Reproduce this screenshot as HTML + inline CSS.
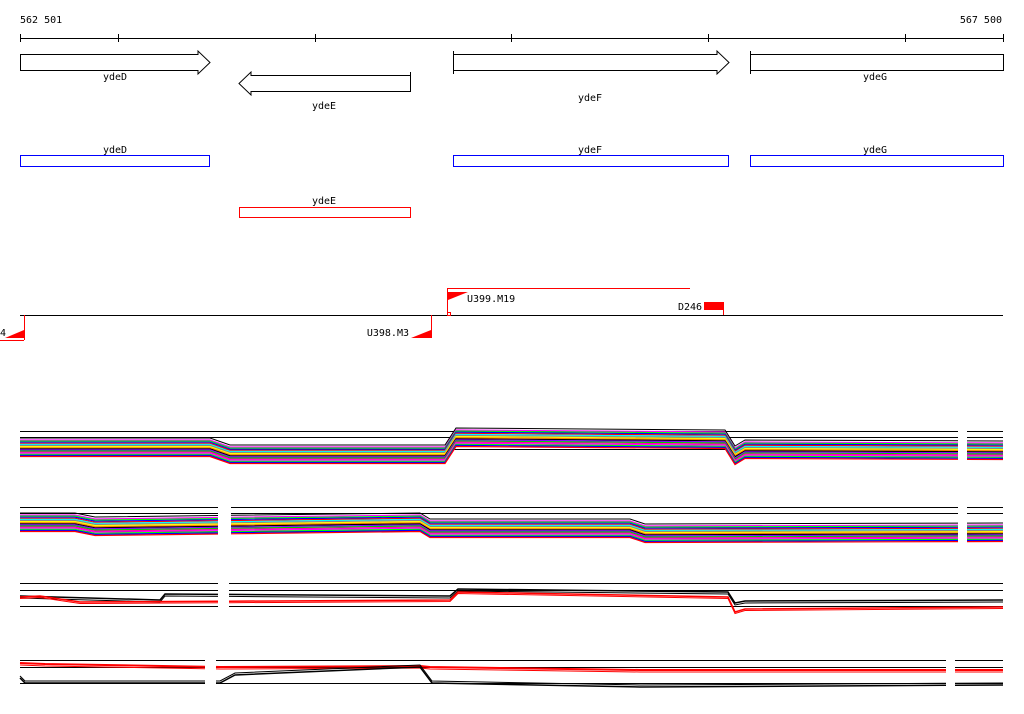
<!DOCTYPE html>
<html><head><meta charset="utf-8"><style>
body{margin:0;background:#fff}
svg{display:block;font-family:"DejaVu Sans Mono","Liberation Mono",monospace;font-size:10px}
</style></head><body>
<svg id="c" width="1024" height="714" viewBox="0 0 1024 714">
<g>
<line x1="20" y1="38.5" x2="1003" y2="38.5" stroke="#000"/>
<text x="20" y="23">562 501</text>
<text x="1002" y="23" text-anchor="end">567 500</text>
<g id="ticks" stroke="#000"></g>
</g>
<g fill="#fff" stroke="#000">
<polygon points="20.5,54.5 198,54.5 198,51 210,62.5 198,74 198,70.5 20.5,70.5"/>
<polygon points="410.5,75.5 251,75.5 251,72 239,83.5 251,95 251,91.5 410.5,91.5"/>
<line x1="410.5" y1="72" x2="410.5" y2="92"/>
<polygon points="453.5,54.5 717,54.5 717,51 729,62.5 717,74 717,70.5 453.5,70.5"/>
<line x1="453.5" y1="51" x2="453.5" y2="74"/>
<rect x="750.5" y="54.5" width="253" height="16"/>
<line x1="750.5" y1="51" x2="750.5" y2="74"/>
</g>
<g fill="#000">
<text x="115" y="80" text-anchor="middle">ydeD</text>
<text x="324" y="109" text-anchor="middle">ydeE</text>
<text x="590" y="101" text-anchor="middle">ydeF</text>
<text x="875" y="80" text-anchor="middle">ydeG</text>
</g>
<g fill="none">
<rect x="20.5" y="155.5" width="189" height="11" stroke="#00f"/>
<rect x="453.5" y="155.5" width="275" height="11" stroke="#00f"/>
<rect x="750.5" y="155.5" width="253" height="11" stroke="#00f"/>
<rect x="239.5" y="207.5" width="171" height="10" stroke="#f00"/>
<g fill="#000">
<text x="115" y="153" text-anchor="middle">ydeD</text>
<text x="590" y="153" text-anchor="middle">ydeF</text>
<text x="875" y="153" text-anchor="middle">ydeG</text>
<text x="324" y="204" text-anchor="middle">ydeE</text>
</g>
</g>
<g>
<line x1="20" y1="315.5" x2="1003" y2="315.5" stroke="#000"/>
<g stroke="#f00" fill="none">
<line x1="24.5" y1="315" x2="24.5" y2="340"/>
<line x1="0" y1="340.5" x2="24" y2="340.5"/>
<line x1="431.5" y1="315" x2="431.5" y2="338"/>
<line x1="447.5" y1="288" x2="447.5" y2="312"/>
<line x1="447" y1="288.5" x2="690" y2="288.5"/>
<rect x="447.5" y="312.5" width="3" height="3"/>
<line x1="723.5" y1="302" x2="723.5" y2="315"/>
</g>
<g fill="#f00">
<polygon points="5,338 24,330 24,338"/>
<polygon points="411,338 431,330 431,338"/>
<polygon points="448,292 468,292 448,300"/>
<rect x="704" y="302" width="19" height="8"/>
</g>
<g fill="#000">
<text x="0" y="336">4</text>
<text x="409" y="336" text-anchor="end">U398.M3</text>
<text x="467" y="302">U399.M19</text>
<text x="678" y="310">D246</text>
</g>
</g>
<g id="tracks"></g>
</svg>
<script>
const NS='http://www.w3.org/2000/svg';
const tickPos=[20,118,315,511,708,905,1003];
const tk=document.getElementById('ticks');
tickPos.forEach(x=>{const l=document.createElementNS(NS,'line');


l.setAttribute('x1',x+0.5);l.setAttribute('x2',x+0.5);l.setAttribute('y1',34);l.setAttribute('y2',42);tk.appendChild(l);});

// profile breakpoints (x) and values (y px offsets) per track
const t1X=[20,210,230,445,456,725,735,745,1003];
const t1Y=[440,440,447,447,430,432,448,442,443];
const t2X=[20,75,95,420,430,630,645,1003];
const t2Y=[515,515,519,515,521,521,526,525];
const t3aX=[20,160,165,450,458,728,735,745,1003];
const t3aY=[596,600,594,596,589,592,603,601,600];
const t3bX=[20,40,80,450,458,728,735,745,1003];
const t3bY=[597,596,602,600,592,597,612,609,607];
const t4aX=[20,45,220,420,430,640,1003];
const t4aY=[663,664,667,666,667,670,670];
const t4bX=[20,25,220,235,420,432,640,1003];
const t4bY=[678,683,683,675,667,683,687,685];
const palette=['#f0f','#0f0','#00f','#f00','#0ff','#888','#ff0','#f80','#000','#80f','#0c0','#f0a'];

const G=document.getElementById('tracks');
function interp(xs,ys,x){for(let i=0;i<xs.length-1;i++){if(x<=xs[i+1]){const t=(x-xs[i])/(xs[i+1]-xs[i]||1);return ys[i]+t*(ys[i+1]-ys[i]);}}return ys[ys.length-1];}
function clipSegs(segs,xs,ys,dy,col,w,g){
  segs.forEach(([a,b])=>{const pts=[];const cand=[a,...xs.filter(x=>x>a&&x<b),b];
    cand.forEach(x=>pts.push(x+','+(interp(xs,ys,x)+dy).toFixed(1)));
    const p=document.createElementNS(NS,'polyline');
    
    
    p.setAttribute('points',pts.join(' '));p.setAttribute('fill','none');p.setAttribute('stroke',col);p.setAttribute('stroke-width',w);g.appendChild(p);});
}
function grid(segs,ys,g){ys.forEach(y=>segs.forEach(([a,b])=>{const l=document.createElementNS(NS,'line');
  
  
  l.setAttribute('x1',a);l.setAttribute('x2',b);l.setAttribute('y1',y+.5);l.setAttribute('y2',y+.5);l.setAttribute('stroke','#000');g.appendChild(l);}));}
function track(name,segs,gy,xs,ys,n){const g=document.createElementNS(NS,'g');
  
  
  G.appendChild(g);grid(segs,gy,g);
  for(let k=0;k<n;k++)clipSegs(segs,xs,ys,k*1.1,palette[k%palette.length],1.2,g);
  clipSegs(segs,xs,ys,-2,'#000',1,g);}
track('track-1',[[20,958],[967,1003]],[431,437,449],t1X,t1Y,16);
track('track-2',[[20,218],[231,958],[967,1003]],[507,513,531],t2X,t2Y,16);
const g3=document.createElementNS(NS,'g');


G.appendChild(g3);
const s3=[[20,218],[229,1003]];
grid(s3,[583,590,606],g3);
clipSegs(s3,t3aX,t3aY,0,'#000',1.5,g3);clipSegs(s3,t3aX,t3aY,2,'#000',1,g3);
clipSegs(s3,t3bX,t3bY,0,'#f00',1.5,g3);clipSegs(s3,t3bX,t3bY,1.5,'#f00',1,g3);
const g4=document.createElementNS(NS,'g');


G.appendChild(g4);
const s4=[[20,205],[216,946],[955,1003]];
grid(s4,[660,667,683],g4);
clipSegs(s4,t4aX,t4aY,0,'#f00',2,g4);clipSegs(s4,t4aX,t4aY,2,'#f00',1,g4);
clipSegs(s4,t4bX,t4bY,0,'#000',1.5,g4);clipSegs(s4,t4bX,t4bY,-2,'#000',1,g4);
</script>
</body></html>
